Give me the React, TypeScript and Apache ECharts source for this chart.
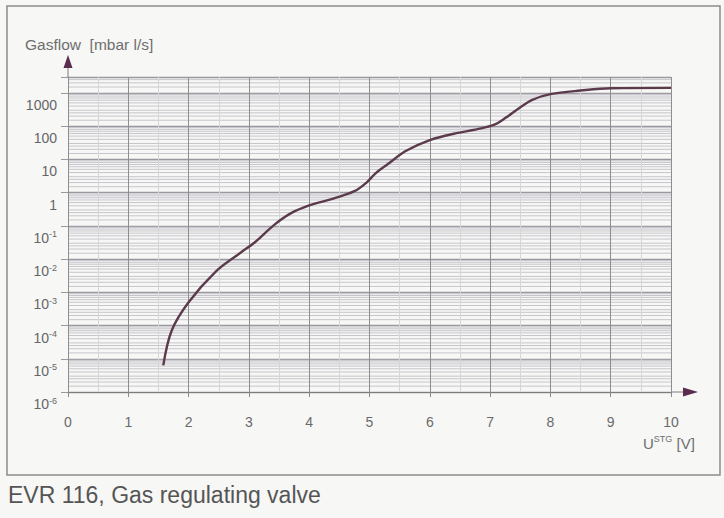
import React, { useEffect, useRef } from "react";
import * as echarts from "echarts";

// Curve (U_STG in V, gas flow in mbar l/s)
const voltage = [1.58, 1.72, 2.0, 2.45, 2.85, 3.1, 3.42, 3.7, 4.0, 4.4, 4.75, 4.95, 5.1, 5.3, 5.6, 6.0, 6.4, 6.85, 7.08, 7.25, 7.48, 7.7, 8.0, 8.5, 9.0, 10.0];
const gasflow = [6.3e-6, 7.1e-5, 5.0e-4, 4.2e-3, 0.015, 0.032, 0.107, 0.24, 0.41, 0.66, 1.1, 2.0, 3.8, 7.1, 17.8, 38, 59, 85, 112, 174, 347, 617, 912, 1175, 1380, 1410];

const Y_MIN = 1e-6;
const Y_MAX = 3000;
const X_MIN = 0;
const X_MAX = 10;
const decadeExponents = [-6, -5, -4, -3, -2, -1, 0, 1, 2, 3];
const minorMultipliers = [1.5, 2, 2.5, 3, 4, 5, 6, 7, 8, 9];

const yTitle = "Gasflow  [mbar l/s]";
const caption = "EVR 116, Gas regulating valve";

const FONT = "Liberation Sans, Arial, sans-serif";

export default function App() {
  const ref = useRef<HTMLDivElement>(null);
  useEffect(() => {
    const chart = echarts.init(ref.current!, null, { renderer: "svg" });
    const minorValues: number[] = [];
    decadeExponents.forEach((e) => {
      minorMultipliers.forEach((m) => {
        const v = m * Math.pow(10, e);
        if (v < Y_MAX) minorValues.push(v);
      });
    });
    const minorSeries = minorValues.map((v) => ({
      type: "line",
      data: [[X_MIN, v], [X_MAX, v]],
      silent: true,
      showSymbol: false,
      lineStyle: { color: "#c6c5cb", width: 1 },
      z: 1,
    }));
    const labelFmt = (v: number) => {
      const e = Math.round(Math.log10(v));
      if (Math.abs(Math.log10(v) - e) > 1e-6) return "";
      if (!decadeExponents.includes(e)) return "";
      if (e >= 0) return "{n|" + Math.pow(10, e) + "}";
      return "{n|10}{s|" + e + "}";
    };
    chart.setOption({
      animation: false,
      backgroundColor: "#f7f7f6",
      grid: { left: 68, right: 53, top: 77, bottom: 126 },
      xAxis: {
        type: "value",
        min: X_MIN,
        max: X_MAX,
        interval: 1,
        axisLine: { show: true, lineStyle: { color: "#7d7d7d", width: 1 } },
        axisTick: { show: true, length: 5, lineStyle: { color: "#8a8a8a" } },
        axisLabel: { margin: 23, fontSize: 14, color: "#6a6a6a", fontFamily: FONT },
        splitLine: { show: true, lineStyle: { color: "#8e8e8e", width: 1 } },
        minorTick: { show: false, splitNumber: 2 },
        minorSplitLine: { show: true, lineStyle: { color: "#d6d6d6", width: 1 } },
        z: 3,
      },
      yAxis: {
        type: "log",
        logBase: 10,
        min: Y_MIN,
        max: Y_MAX,
        splitNumber: 10,
        axisLine: { show: true, lineStyle: { color: "#7d7d7d", width: 1 } },
        axisTick: { show: true, length: 7, lineStyle: { color: "#9a9a9a" } },
        axisLabel: {
          margin: 11,
          verticalAlign: "top",
          padding: [4, 0, 0, 0],
          color: "#666",
          fontFamily: FONT,
          formatter: labelFmt,
          rich: {
            n: { fontSize: 14, color: "#666", lineHeight: 16, fontFamily: FONT },
            s: { fontSize: 9, color: "#666", verticalAlign: "top", lineHeight: 10, fontFamily: FONT },
          },
        },
        splitLine: { show: true, lineStyle: { color: "#9a97a0", width: 1.3 } },
      },
      series: [
        ...minorSeries,
        {
          type: "line",
          data: voltage.map((x, i) => [x, gasflow[i]]),
          smooth: 0.35,
          showSymbol: false,
          lineStyle: { color: "#5b3b4b", width: 2.4 },
          z: 5,
        },
      ],
      graphic: [
        { type: "rect", shape: { x: 7, y: 6, width: 713, height: 469 }, style: { fill: "none", stroke: "#8c8c8c", lineWidth: 1.5 }, silent: true },
        { type: "line", shape: { x1: 68, y1: 67, x2: 68, y2: 77 }, style: { stroke: "#7d7d7d", lineWidth: 1 } },
        { type: "polygon", shape: { points: [[63.5, 68], [72.5, 68], [68, 55]] }, style: { fill: "#5a2d4f" } },
        { type: "line", shape: { x1: 671, y1: 392, x2: 684, y2: 392 }, style: { stroke: "#7d7d7d", lineWidth: 1 } },
        { type: "polygon", shape: { points: [[683, 387.5], [683, 396.5], [698, 392]] }, style: { fill: "#5a2d4f" } },
        {
          type: "text",
          x: 25,
          y: 44,
          style: { text: yTitle, fontSize: 15.5, fill: "#6e6e6e", fontFamily: FONT, verticalAlign: "middle", align: "left" },
        },
        {
          type: "text",
          x: 643,
          y: 443,
          style: {
            text: "{u|U}{s|STG}{u| [V]}",
            verticalAlign: "middle",
            align: "left",
            rich: {
              u: { fontSize: 15, fill: "#6e6e6e", lineHeight: 18, fontFamily: FONT },
              s: { fontSize: 9, fill: "#6e6e6e", verticalAlign: "top", lineHeight: 11, fontFamily: FONT },
            },
          },
        },
        {
          type: "text",
          x: 8,
          y: 495,
          style: { text: caption, fontSize: 23, fill: "#555", fontFamily: FONT, verticalAlign: "middle", align: "left" },
        },
      ],
    });
    return () => chart.dispose();
  }, []);
  return <div ref={ref} style={{ position: "fixed", left: 0, top: 0, width: 724, height: 518 }} />;
}
